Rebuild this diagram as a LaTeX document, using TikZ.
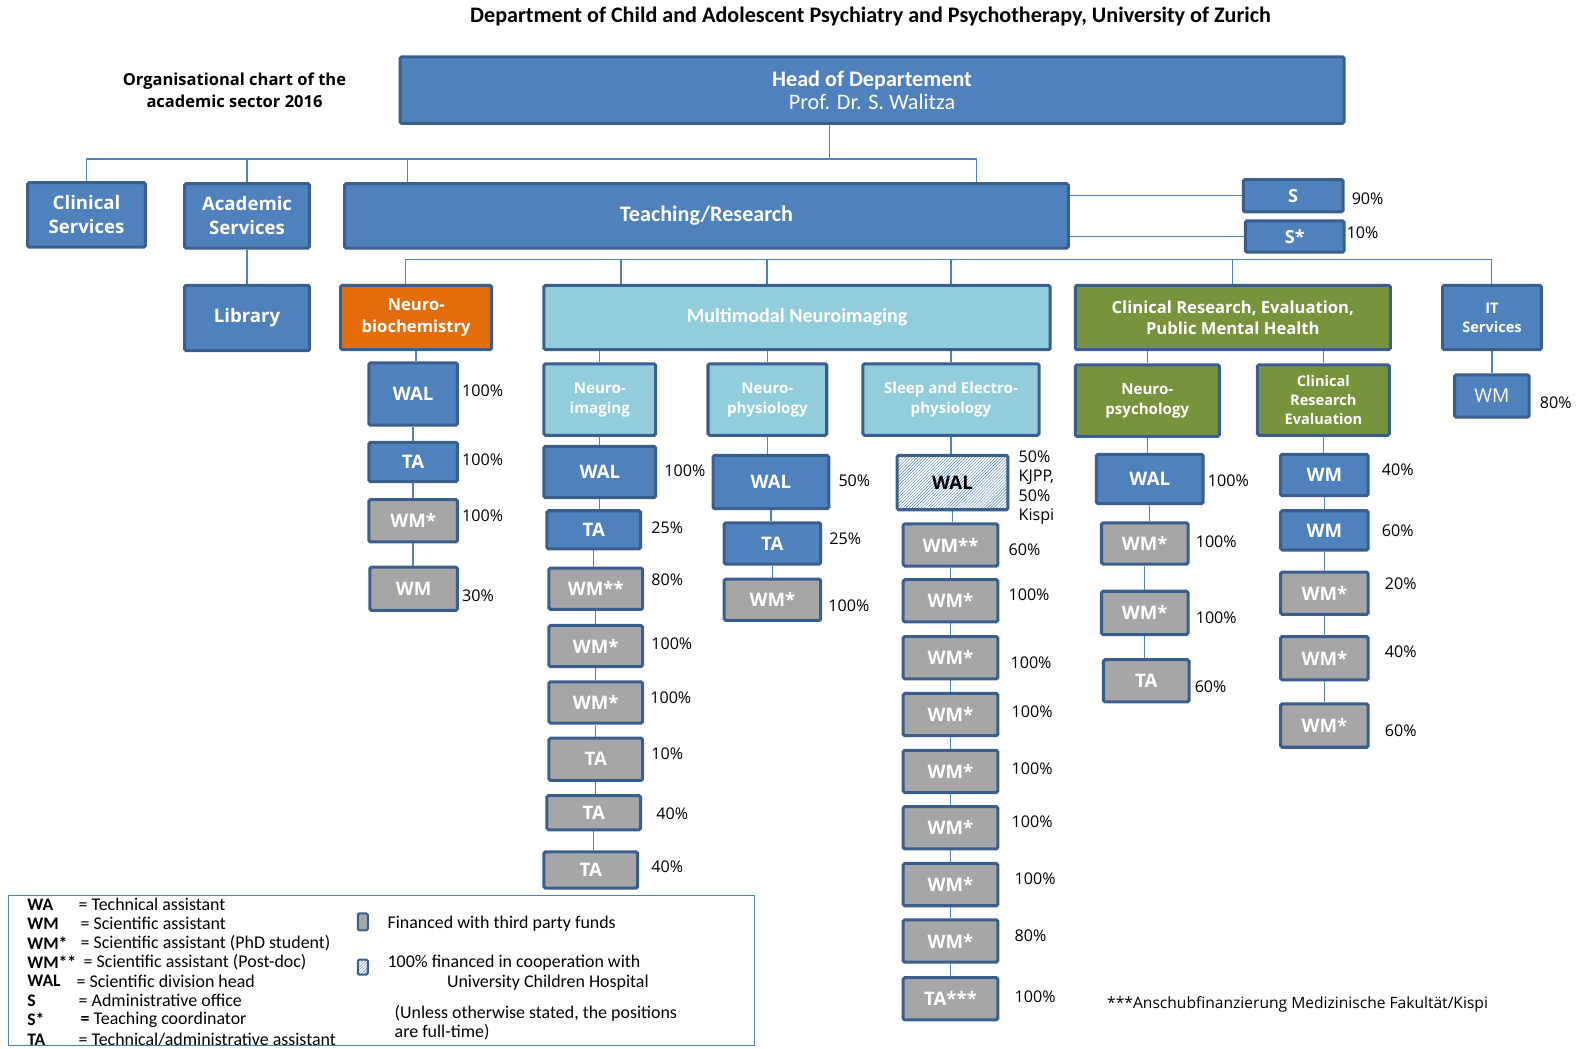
\documentclass[tikz,border=0pt]{standalone}
\usepackage{fontspec}
\setmainfont{Open Sans}
\newfontfamily\calfont{Carlito}
\usetikzlibrary{patterns}
\definecolor{fblue}{HTML}{4F81BD}
\definecolor{bdr}{HTML}{3A5F8F}
\definecolor{fgray}{HTML}{A6A6A6}
\definecolor{forange}{HTML}{E46C0A}
\definecolor{flight}{HTML}{92CDDC}
\definecolor{fgreen}{HTML}{77933C}
\definecolor{lnk}{HTML}{4F81BD}
\newcommand\fsz[2]{\fontsize{#1}{#2}\selectfont}
\pgfdeclarelayer{bg}
\pgfsetlayers{bg,main}
\begin{document}
\begin{tikzpicture}[x=1pt,y=-1pt,
  box/.style={draw=bdr, line width=3pt, rounded corners=1.5pt, inner sep=0pt,
    align=center, text=white, font=\bfseries\fsz{18.5}{24}},
  bbox/.style={box, fill=fblue},
  gbox/.style={box, fill=fgray},
  obox/.style={box, fill=forange, font=\bfseries\fsz{16.5}{21}},
  lbox/.style={box, fill=flight, font=\bfseries\fsz{15}{20}},
  grbox/.style={box, fill=fgreen, font=\bfseries\fsz{15}{20}},
  hbox/.style={box, preaction={fill=white}, pattern=north east lines,
    pattern color=fblue, text=black},
  sz/.style 2 args={minimum width=#1pt, minimum height=#2pt},
  pct/.style={anchor=west, inner sep=0pt, font=\fsz{16}{19}, align=left},
  leg/.style={anchor=west, inner sep=0pt, font=\calfont\fsz{17.8}{19}, align=left},
  legb/.style={leg, font=\calfont\bfseries\fsz{17.5}{19}},
  link/.style={draw=lnk, line width=1.3pt}]
\useasboundingbox (0,0) rectangle (1568,1042);

% titles
\node[font=\calfont\bfseries\fsz{22}{24}] (title) at (865,16)
  {Department of Child and Adolescent Psychiatry and Psychotherapy, University of Zurich};
\node[font=\bfseries\fsz{16.4}{22}, align=center] (sub) at (233,90)
  {Organisational chart of the\\academic sector 2016};

% top levels
\node[bbox, sz={938}{66}, font=\calfont\fsz{22}{23}] (head) at (866.5,89.5)
  {\textbf{Head of Departement}\\Prof. Dr. S. Walitza};
\node[bbox, sz={117}{64}] (clin) at (86,213.5) {Clinical\\Services};
\node[bbox, sz={124}{64}] (acad) at (245.5,214.5) {Academic\\Services};
\node[bbox, sz={719}{64}, font=\calfont\bfseries\fsz{22}{24}] (tr) at (702,214.5) {Teaching/Research};
\node[bbox, sz={99}{32}, font=\bfseries\fsz{18}{20}] (s) at (1285,194.5) {S};
\node[bbox, sz={98}{31}, font=\bfseries\fsz{18}{20}] (ss) at (1286.5,235) {S*};
\node[pct] (ps) at (1343,197) {90\%};
\node[pct] (pss) at (1338,231) {10\%};

\node[bbox, sz={124}{65}, font=\bfseries\fsz{18.5}{21}] (lib) at (245.5,316) {Library};
\node[obox, sz={150}{64}] (nbio) at (413.5,315.5) {Neuro-\\biochemistry};
\node[lbox, sz={503}{64}, font=\calfont\bfseries\fsz{20}{22}] (multi) at (792,315.5) {Multimodal Neuroimaging};
\node[grbox, sz={313}{64}, font=\bfseries\fsz{16.5}{21}] (crp) at (1225,315.5)
  {Clinical Research, Evaluation,\\Public Mental Health};
\node[bbox, sz={98}{64}, font=\bfseries\fsz{14.5}{19}] (it) at (1482.5,315.5) {IT\\Services};

% Neurobiochemistry column
\node[bbox, sz={88}{62}] (nb1) at (410.5,391.5) {WAL};
\node[bbox, sz={88}{39}] (nb2) at (410.5,459) {TA};
\node[gbox, sz={88}{42}] (nb3) at (410.5,517.5) {WM*};
\node[gbox, sz={87}{43}] (nb4) at (411,585) {WM};
\node[pct] at (459,388) {100\%};
\node[pct] at (459,457) {100\%};
\node[pct] at (459,512) {100\%};
\node[pct] at (459,592) {30\%};

% Multimodal sub-units
\node[lbox, sz={111}{71}] (ni) at (596,397) {Neuro-\\imaging};
\node[lbox, sz={118}{71}] (np) at (762.5,397) {Neuro-\\physiology};
\node[lbox, sz={175}{71}] (se) at (945,397) {Sleep and Electro-\\physiology};

% Neuroimaging column
\node[bbox, sz={111}{51}] (ni1) at (596,469) {WAL};
\node[bbox, sz={93}{38}] (ni2) at (590,526.5) {TA};
\node[gbox, sz={93}{41}] (ni3) at (592,585) {WM**};
\node[gbox, sz={93}{41}] (ni4) at (592,642) {WM*};
\node[gbox, sz={93}{41}] (ni5) at (592,698) {WM*};
\node[gbox, sz={93}{42}] (ni6) at (592,754.5) {TA};
\node[gbox, sz={93}{34}] (ni7) at (590,807.5) {TA};
\node[gbox, sz={93}{36}] (ni8) at (587,864.5) {TA};
\node[pct] at (660,468) {100\%};
\node[pct] at (647,524) {25\%};
\node[pct] at (647,576) {80\%};
\node[pct] at (647,640) {100\%};
\node[pct] at (646,693) {100\%};
\node[pct] at (647,749) {10\%};
\node[pct] at (652,809) {40\%};
\node[pct] at (647,861) {40\%};

% Neurophysiology column
\node[bbox, sz={115}{53}] (np1) at (766,479) {WAL};
\node[bbox, sz={96}{41}] (np2) at (767.5,540) {TA};
\node[gbox, sz={96}{41}] (np3) at (767.5,596) {WM*};
\node[pct] at (833,478) {50\%};
\node[pct] at (824,535) {25\%};
\node[pct] at (823,602) {100\%};

% Sleep and electrophysiology column
\node[hbox, sz={110}{54}] (se1) at (946.5,479.5) {WAL};
\node[gbox, sz={94}{42}] (se2) at (944.5,541.5) {WM**};
\node[gbox, sz={94}{42}] (se3) at (944.5,597) {WM*};
\node[gbox, sz={94}{42}] (se4) at (944.5,653.5) {WM*};
\node[gbox, sz={94}{42}] (se5) at (944.5,710) {WM*};
\node[gbox, sz={94}{42}] (se6) at (944.5,766.5) {WM*};
\node[gbox, sz={94}{42}] (se7) at (944.5,822.5) {WM*};
\node[gbox, sz={94}{42}] (se8) at (944.5,879) {WM*};
\node[gbox, sz={94}{42}] (se9) at (944.5,935) {WM*};
\node[gbox, sz={94}{42}] (se10) at (944.5,992.5) {TA***};
\node[pct] at (1012,484.5) {50\%\\KJPP,\\50\%\\Kispi};
\node[pct] at (1002,546) {60\%};
\node[pct] at (1002,591) {100\%};
\node[pct] at (1004,659) {100\%};
\node[pct] at (1005,707) {100\%};
\node[pct] at (1005,764) {100\%};
\node[pct] at (1005,817) {100\%};
\node[pct] at (1008,873) {100\%};
\node[pct] at (1008,930) {80\%};
\node[pct] at (1008,990) {100\%};

% Clinical research sub-units
\node[grbox, sz={143}{71}] (psy) at (1140,398) {Neuro-\\psychology};
\node[grbox, sz={131}{70}, font=\bfseries\fsz{14.5}{19}] (cre) at (1315,397.5) {Clinical\\Research\\Evaluation};

% Neuropsychology column
\node[bbox, sz={106}{49}] (ps1) at (1142.5,476) {WAL};
\node[gbox, sz={86}{41}] (ps2) at (1137.5,540) {WM*};
\node[gbox, sz={86}{43}] (ps3) at (1137.5,609) {WM*};
\node[gbox, sz={85}{42}] (ps4) at (1139,676.5) {TA};
\node[pct] at (1200,478) {100\%};
\node[pct] at (1188,538) {100\%};
\node[pct] at (1188,614) {100\%};
\node[pct] at (1187,682) {60\%};

% Clinical research evaluation column
\node[bbox, sz={87}{41}] (cr1) at (1316,472) {WM};
\node[bbox, sz={87}{39}] (cr2) at (1316,527) {WM};
\node[gbox, sz={87}{42}] (cr3) at (1316,589.5) {WM*};
\node[gbox, sz={87}{43}] (cr4) at (1316,654) {WM*};
\node[gbox, sz={87}{43}] (cr5) at (1316,721) {WM*};
\node[pct] at (1373,467) {40\%};
\node[pct] at (1373,527) {60\%};
\node[pct] at (1376,580) {20\%};
\node[pct] at (1376,648) {40\%};
\node[pct] at (1376,726) {60\%};

% IT column
\node[bbox, sz={74}{42}, font=\fsz{19}{21}] (itw) at (1482.5,393.5) {WM};
\node[pct] at (1530,400) {80\%};

% footnote
\node[anchor=west, inner sep=0pt, font=\fsz{15.5}{17}] (fn) at (1100,998)
  {***Anschubfinanzierung Medizinische Fakultät/Kispi};

% legend
\node[draw=lnk, line width=1pt, sz={742}{149}] (legend) at (379,964.5) {};
\node[legb] at (27,899) {WA};   \node[leg] at (78,899) {= Technical assistant};
\node[legb] at (27,918) {WM};   \node[leg] at (80,918) {= Scientific assistant};
\node[legb] at (27,937) {WM*};  \node[leg] at (80,937) {= Scientific assistant (PhD student)};
\node[legb] at (27,956) {WM**}; \node[leg] at (83,956) {= Scientific assistant (Post-doc)};
\node[legb] at (27,975) {WAL};  \node[leg] at (76,975) {= Scientific division head};
\node[legb] at (27,994) {S};    \node[leg] at (78,994) {= Administrative office};
\node[legb] at (27,1013) {S*};  \node[leg] at (80,1013) {\textbf{=} Teaching coordinator};
\node[legb] at (27,1033) {TA};  \node[leg] at (78,1033) {= Technical/administrative assistant};
\node[gbox, line width=2pt, sz={10}{17}] (icg) at (360.5,916) {};
\node[hbox, line width=2pt, sz={10}{15}] (ich) at (360.5,961) {};
\node[leg] at (385,918) {Financed with third party funds};
\node[leg] at (385,957) {100\% financed in cooperation with};
\node[leg] at (444,976) {University Children Hospital};
\node[leg] at (392,1007) {(Unless otherwise stated, the positions};
\node[leg] at (392,1026) {are full-time)};

% connectors
\begin{pgfonlayer}{bg}
\coordinate (j1) at (824,158);
\coordinate (j1l) at (405,158);
\coordinate (j1r) at (970,158);
\draw[link] (head.south -| j1) -- (j1);
\draw[link] (clin.north) |- (j1) -- (j1r) -- (j1r |- tr.north);
\draw[link] (acad.north) -- (acad.north |- j1);
\draw[link] (j1l) -- (j1l |- tr.north);
\draw[link] (acad.south) -- (lib.north);
\draw[link] (s.west) -- (s.west -| tr.east);
\draw[link] (ss.west) -- (ss.west -| tr.east);

\coordinate (j2l) at (403,258);
\coordinate (j2r) at (1482,258);
\coordinate (m1) at (617,258);
\coordinate (m2) at (762,258);
\coordinate (m3) at (945,258);
\coordinate (c1) at (1225,258);
\draw[link] (nbio.north -| j2l) -- (j2l) -- (j2r) -- (it.north -| j2r);
\foreach \m in {m1,m2,m3} {\draw[link] (\m) -- (\m |- multi.north);}
\draw[link] (c1) -- (c1 |- crp.north);

\foreach \c in {ni,np,se} {\draw[link] (\c.north) -- (\c.north |- multi.south);}
\draw[link] (psy.north) -- (psy.north |- crp.south);
\draw[link] (cre.north) -- (cre.north |- crp.south);

\foreach \a/\b in {nbio/nb1,nb1/nb2,nb2/nb3,nb3/nb4,
    ni/ni1,ni1/ni2,ni2/ni3,ni3/ni4,ni4/ni5,ni5/ni6,ni6/ni7,ni7/ni8,
    np/np1,np1/np2,np2/np3,
    se/se1,se1/se2,se2/se3,se3/se4,se4/se5,se5/se6,se6/se7,se7/se8,se8/se9,se9/se10,
    psy/ps1,ps1/ps2,ps2/ps3,ps3/ps4,
    cre/cr1,cr1/cr2,cr2/cr3,cr3/cr4,cr4/cr5,it/itw}
  {\draw[link] (\a.south) -- (\a.south |- \b.north);}
\end{pgfonlayer}
\end{tikzpicture}
\end{document}
